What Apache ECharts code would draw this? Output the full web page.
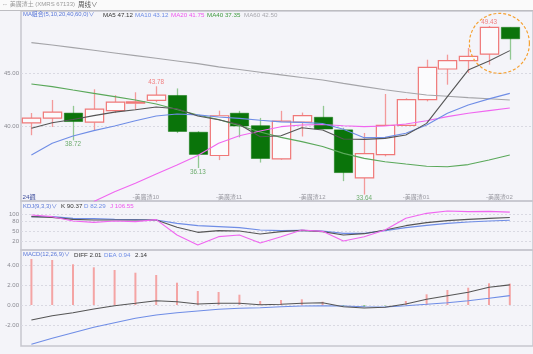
<!DOCTYPE html>
<html><head><meta charset="utf-8">
<script src="https://cdn.jsdelivr.net/npm/echarts@6/dist/echarts.min.js"></script>
<style>html,body{margin:0;padding:0;background:#f4f4f9;overflow:hidden}#c{width:533px;height:354px}</style>
</head><body><div id="c"></div>
<script>
// ---- data ----
const opens  = [40.35,40.80,41.27,40.42,41.50,42.20,42.47,42.92,39.48,37.30,41.26,40.09,36.98,40.42,40.88,39.70,35.20,37.38,40.12,42.53,45.40,46.18,46.80,49.30];
const closes = [40.80,41.36,40.48,41.64,42.30,42.32,42.96,39.55,37.40,41.02,40.06,37.02,40.52,41.04,39.78,35.70,37.47,40.12,42.53,45.55,46.18,46.58,49.29,48.23];
const lows   = [39.20,39.97,38.72,39.65,41.28,41.58,42.30,39.40,36.13,36.87,39.00,36.64,36.90,39.08,39.75,34.90,33.64,37.22,40.10,42.37,43.93,45.03,45.80,46.27];
const highs  = [41.28,42.50,41.95,43.50,42.95,43.22,43.78,43.58,39.58,41.50,41.48,40.82,41.48,41.32,41.95,39.90,39.41,43.06,42.66,46.27,46.74,47.37,49.43,49.30];

const ma5  = [39.85,40.37,40.67,41.03,41.36,41.59,41.84,41.68,41.00,40.65,40.20,39.06,39.15,39.90,39.69,38.85,38.81,38.90,39.22,40.31,42.81,45.30,46.15,47.12];
const ma10 = [37.35,38.44,39.13,39.63,40.06,40.56,41.00,41.19,41.10,40.90,40.78,40.60,40.45,40.40,40.30,39.75,38.97,39.00,39.38,40.16,41.25,42.03,42.60,43.12];
const ma20 = [null,null,null,33.00,33.91,34.70,35.57,36.41,37.30,38.45,39.15,39.60,40.00,40.15,40.20,40.08,40.00,40.06,40.25,40.56,40.94,41.25,41.50,41.75];
const ma40 = [44.00,43.75,43.43,43.12,42.81,42.50,42.12,41.60,41.10,40.67,40.10,39.50,39.00,38.60,38.15,37.50,37.03,36.72,36.50,36.30,36.25,36.45,36.88,37.35];
const ma60 = [47.87,47.65,47.40,47.15,46.90,46.65,46.40,46.15,45.90,45.60,45.35,45.10,44.85,44.60,44.37,44.05,43.75,43.45,43.20,42.97,42.85,42.72,42.62,42.50];

const kdjK = [93,91,85,83,83,83,83,61,46,51,50,41,48,52,48,38,42,53,66,75,81,85,88,90.37];
const kdjD = [93,93,88,87,85,84,83,73,66,63,60,53,51,52,50,43,43,51,60,67,73,77,80,82.29];
const kdjJ = [98,93,80,76,80,78,84,38,8,33,38,14,33,53,49,20,33,53,88,103,110,108,109,106.55];

const macdHist = [4.60,4.50,4.07,3.77,3.50,3.23,3.00,2.23,1.40,1.30,1.03,0.40,0.50,0.57,0.33,-0.12,-0.20,-0.05,0.40,1.07,1.50,1.73,2.17,2.14];
const macdDiff = [-1.50,-1.07,-0.77,-0.40,-0.07,0.17,0.43,0.33,0.10,0.17,0.17,0.02,0.07,0.17,0.23,-0.17,-0.30,-0.23,0.10,0.57,0.93,1.27,1.77,2.01];
const macdDea  = [-3.93,-3.33,-2.77,-2.23,-1.77,-1.33,-1.00,-0.77,-0.60,-0.43,-0.33,-0.27,-0.17,-0.10,-0.07,-0.10,-0.17,-0.20,-0.07,0.07,0.23,0.43,0.67,0.94];

const monthLabels = ['-美廣渣10','-美廣渣11','-美廣渣12','-美廣渣01','-美廣渣02'];
const monthPos    = [5.5, 9.5, 13.5, 18.5, 22.5];
const priceTicks  = [40, 45];
const kdjTicks    = [20, 50, 80, 100];
const macdTicks   = [-2, 0, 2, 4];

const hiMarkIdx = [6, 22];
const hiMarkVal = [43.78, 49.43];
const loMarkIdx = [2, 8, 16];
const loMarkVal = [38.72, 36.13, 33.64];

const highlightIdx = 22.5, highlightVal = 47.8;

const headerText = '⇔ 美廣渣土 (XMRS 67133)';
const periodText = '周线∨';
const periodLabel = '24週';
const maLegend   = ['MA組合(5,10,20,40,60,0)∨','MA5 47.12','MA10 43.12','MA20 41.75','MA40 37.35','MA60 42.50'];
const kdjLegend  = ['KDJ(9,3,3)∨','K 90.37','D 82.29','J 106.55'];
const macdLegend = ['MACD(12,26,9)∨','DIFF 2.01','DEA 0.94','2.14'];

// ---- styles ----
const FONT = "'Liberation Sans','Noto Sans CJK TC',sans-serif";
const RED = '#f07878', RED_WICK = '#f39a9a', GREEN = '#0a740a', GREEN_WICK = '#92c892';
const C5 = '#555555', C10 = '#6f8de6', C20 = '#f066f0', C40 = '#5aa85a', C60 = '#a4a4a8';
const GRIDC = '#c6c6ce', DASH = '#d9d9e2';

const idx = opens.map((_, i) => i);
const candleData = idx.map(i => [i, opens[i], closes[i], lows[i], highs[i]]);
const pair = arr => arr.map((v, i) => [i, v]);

const chart = echarts.init(document.getElementById('c'), null, {renderer: 'canvas'});

const XMIN = -0.5, XMAX = 24.115;
const grids = [
  {left: 21, right: 0, top: 11, height: 190},
  {left: 21, right: 0, top: 201, height: 49},
  {left: 21, right: 0, top: 250, height: 96}
].map(g => Object.assign({show: true, borderColor: GRIDC, borderWidth: 1.5, backgroundColor: 'transparent'}, g));

function xAx(gi, withLabels) {
  return {
    type: 'value', gridIndex: gi, min: XMIN, max: XMAX,
    axisLine: {show: false}, splitLine: {show: false},
    axisTick: {show: false},
    axisLabel: withLabels ? {
      show: true, inside: true, customValues: monthPos, margin: 1,
      verticalAlign: 'bottom', fontSize: 6, color: '#9a9aa2', fontFamily: FONT,
      formatter: v => { const k = monthPos.findIndex(p => Math.abs(p - v) < 1e-6); return k >= 0 ? monthLabels[k] : ''; }
    } : {show: false}
  };
}
function yAx(gi, min, max, ticks, fmt) {
  return {
    type: 'value', gridIndex: gi, min, max, scale: true,
    axisLine: {show: false},
    axisTick: {show: false, customValues: ticks},
    splitLine: {show: true, lineStyle: {color: DASH, type: [2, 2], width: 1}},
    axisLabel: {show: true, customValues: ticks, formatter: fmt, fontSize: 6, color: '#8a8a92', margin: 2, fontFamily: FONT}
  };
}

function renderCandle(params, api) {
  const i = api.value(0), o = api.value(1), c = api.value(2), l = api.value(3), h = api.value(4);
  const pO = api.coord([i, o]), pC = api.coord([i, c]), pL = api.coord([i, l]), pH = api.coord([i, h]);
  const w = api.size([1, 0])[0] * 0.88;
  const x = Math.round(pO[0]) + 0.5;
  const top = Math.min(pO[1], pC[1]), bot = Math.max(pO[1], pC[1]);
  const ch = [];
  if (c >= o) {
    ch.push({type: 'line', shape: {x1: x, y1: pH[1], x2: x, y2: top}, style: {stroke: RED_WICK, lineWidth: 1.3}});
    ch.push({type: 'line', shape: {x1: x, y1: bot, x2: x, y2: pL[1]}, style: {stroke: RED_WICK, lineWidth: 1.3}});
    ch.push({type: 'rect', shape: {x: x - w / 2, y: top, width: w, height: Math.max(bot - top, 1)}, style: {fill: '#fbfbfd', stroke: RED, lineWidth: 1.2}});
  } else {
    ch.push({type: 'line', shape: {x1: x, y1: pH[1], x2: x, y2: pL[1]}, style: {stroke: GREEN_WICK, lineWidth: 1.3}});
    ch.push({type: 'rect', shape: {x: x - w / 2, y: top, width: w, height: Math.max(bot - top, 1)}, style: {fill: GREEN, stroke: GREEN, lineWidth: 0.5}});
  }
  return {type: 'group', children: ch};
}

function lineS(name, data, color, xi, yi) {
  return {name, type: 'line', xAxisIndex: xi, yAxisIndex: yi, data: pair(data), showSymbol: false, symbol: 'none',
    lineStyle: {color, width: 1.1}, silent: true, animation: false, connectNulls: false, z: 3};
}

const t = (text, left, top, color, size) => ({text, left, top, padding: 0,
  textStyle: {fontSize: size || 6.2, fontWeight: 'normal', color, fontFamily: FONT}});

const baseGraphic = [
  {type: 'rect', z: -10, shape: {x: 0, y: 0, width: 533, height: 10}, style: {fill: '#fafafa'}},
  {type: 'line', z: 10, shape: {x1: 0, y1: 10.5, x2: 533, y2: 10.5}, style: {stroke: '#bdbdc2', lineWidth: 1.2}}
];

const option = {
  animation: false,
  backgroundColor: '#f4f4f9',
  title: [
    t(headerText, 2, 1.5, '#9a9a9a', 6),
    t(periodText, 78, 1.5, '#555', 6.5),
    t(maLegend[0], 23, 11.8, '#5a78d8', 5.9),
    t(maLegend[1], 103, 11.8, '#333'),
    t(maLegend[2], 135, 11.8, C10),
    t(maLegend[3], 171, 11.8, '#ee55ee'),
    t(maLegend[4], 207, 11.8, '#3f9a3f'),
    t(maLegend[5], 244, 11.8, '#a8a8ae'),
    t(periodLabel, 22.5, 194, '#3a4a9a', 6.2),
    t(kdjLegend[0], 23, 203.2, '#5a78d8', 5.9),
    t(kdjLegend[1], 61, 203.2, '#333'),
    t(kdjLegend[2], 84, 203.2, C10),
    t(kdjLegend[3], 110, 203.2, '#ee55ee'),
    t(macdLegend[0], 23, 251.7, '#5a78d8', 5.9),
    t(macdLegend[1], 74, 251.7, '#333'),
    t(macdLegend[2], 104, 251.7, C10),
    t(macdLegend[3], 135, 251.7, '#333')
  ],
  grid: grids,
  xAxis: [xAx(0, true), xAx(1, false), xAx(2, false)],
  yAxis: [
    yAx(0, 33.04, 50.83, priceTicks, v => v.toFixed(2)),
    yAx(1, -7, 140, kdjTicks, v => String(Math.round(v))),
    yAx(2, -4.1, 5.5, macdTicks, v => v.toFixed(2))
  ],
  series: [
    lineS('MA60', ma60, C60, 0, 0),
    lineS('MA40', ma40, C40, 0, 0),
    {
      name: 'K', type: 'custom', xAxisIndex: 0, yAxisIndex: 0, data: candleData,
      encode: {x: 0, y: [1, 2, 3, 4]}, renderItem: renderCandle, z: 2, silent: true, clip: true
    },
    lineS('MA20', ma20, C20, 0, 0),
    lineS('MA10', ma10, C10, 0, 0),
    lineS('MA5', ma5, C5, 0, 0),
    {
      type: 'scatter', xAxisIndex: 0, yAxisIndex: 0, symbolSize: 0, silent: true, z: 5,
      data: hiMarkIdx.map((i, k) => [i, hiMarkVal[k]]),
      label: {show: true, position: 'top', distance: 1, fontSize: 6.3, color: '#f06060', fontFamily: FONT,
        formatter: p => p.value[1].toFixed(2)}
    },
    {
      type: 'scatter', xAxisIndex: 0, yAxisIndex: 0, symbolSize: 0, silent: true, z: 5,
      data: loMarkIdx.map((i, k) => [i, loMarkVal[k]]),
      label: {show: true, position: 'bottom', distance: 1, fontSize: 6.3, color: '#4a9a4a', fontFamily: FONT,
        formatter: p => p.value[1].toFixed(2)}
    },
    lineS('KDJ-D', kdjD, C10, 1, 1),
    lineS('KDJ-K', kdjK, C5, 1, 1),
    lineS('KDJ-J', kdjJ, C20, 1, 1),
    {
      name: 'MACD', type: 'bar', xAxisIndex: 2, yAxisIndex: 2, data: pair(macdHist), barWidth: 2, silent: true,
      itemStyle: {color: p => p.value[1] >= 0 ? '#f4a4a4' : '#8cc88c'}
    },
    lineS('DEA', macdDea, C10, 2, 2),
    lineS('DIFF', macdDiff, C5, 2, 2)
  ],
  graphic: baseGraphic
};
chart.setOption(option);

// dashed highlight circle around the last two candles, placed from data coordinates
const ctr = chart.convertToPixel({gridIndex: 0}, [highlightIdx, highlightVal]);
chart.setOption({graphic: baseGraphic.concat([
  {type: 'circle', z: 20, shape: {cx: ctr[0], cy: ctr[1], r: 30}, style: {fill: 'none', stroke: '#f5a030', lineWidth: 1.2, lineDash: [3, 2]}}
])});
</script></body></html>
